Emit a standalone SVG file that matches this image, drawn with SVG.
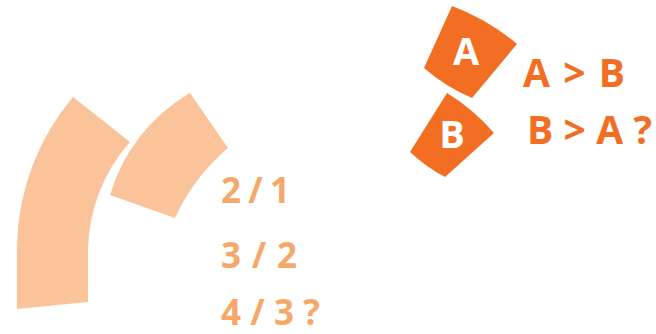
<svg xmlns="http://www.w3.org/2000/svg" width="656" height="334" viewBox="0 0 656 334">
<style>
.light{fill:#FBC399}
.dark{fill:#F26E22}
.frac{font-family:"Open Sans","Liberation Sans",sans-serif;font-weight:bold;font-size:35px;fill:#F7A768}
.cmp{font-family:"Open Sans","Liberation Sans",sans-serif;font-weight:bold;font-size:39px;fill:#F26E22}
.lbl{font-family:"Open Sans","Liberation Sans",sans-serif;font-weight:bold;font-size:38px;fill:#FFFFFF;text-anchor:middle}
</style>
<rect width="656" height="334" fill="#FFFFFF"/>
<g id="big-arc">
<path class="light" d="M73,97 L130,142 A166,166 0 0 0 88,250 L88,302 L17,309 L17,245 A237,237 0 0 1 73,97 Z"/>
</g>
<g id="small-arc">
<path class="light" d="M190,93 L228,148 A200,200 0 0 0 175,218 L110,195 A175,175 0 0 1 190,93 Z"/>
</g>
<g id="fractions">
<text class="frac" x="221" y="203" textLength="69" lengthAdjust="spacing">2 / 1</text>
<text class="frac" x="221" y="268" textLength="76" lengthAdjust="spacing">3 / 2</text>
<text class="frac" x="221" y="325" textLength="99" lengthAdjust="spacing">4 / 3 ?</text>
</g>
<g id="node-A">
<path class="dark" d="M452,6 A220,220 0 0 1 517,44 L472,98 A180,180 0 0 1 424,68 Z"/>
<text class="lbl" x="466" y="65">A</text>
</g>
<g id="node-B">
<path class="dark" d="M447,93 A200,200 0 0 1 494,133 L445,177 A160,160 0 0 1 410,152 Z"/>
<text class="lbl" x="452" y="148">B</text>
</g>
<g id="comparisons">
<text class="cmp" x="523" y="87" textLength="102" lengthAdjust="spacing">A &gt; B</text>
<text class="cmp" x="527" y="144" textLength="125" lengthAdjust="spacing">B &gt; A ?</text>
</g>
<g id="connectors"/>
</svg>
